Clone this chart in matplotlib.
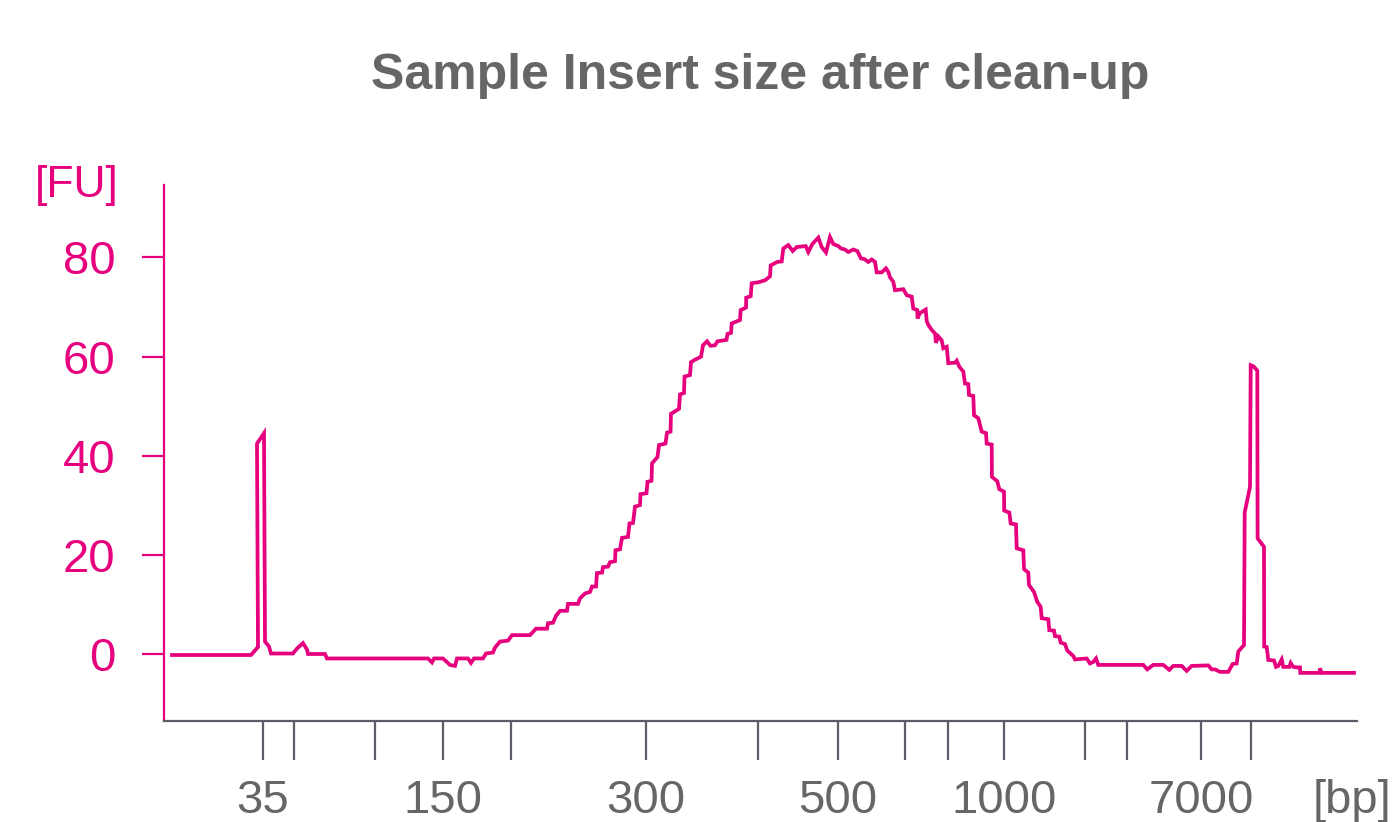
import matplotlib
matplotlib.use("Agg")
import matplotlib.pyplot as plt

# electropherogram trace: migration position (arbitrary units) vs fluorescence [FU]
position = [
    172, 251, 258, 257, 264, 265, 269, 271, 293, 297, 303, 307, 308, 325, 327,
    428, 432, 434, 443, 450, 455, 457, 468, 471, 474, 483, 486, 493, 495, 500,
    508, 512, 530, 536, 547, 548, 553, 556, 560, 567, 568, 578, 580, 585, 590,
    592, 596, 597, 602, 603, 608, 610, 615, 615.5, 620, 622, 628, 629.5, 633, 635,
    640, 640.5, 646.5, 647.5, 651.5, 652, 657.5, 659, 665.5, 667, 670.5, 671, 679, 680,
    684, 684.5, 690, 691, 695, 701, 703, 707, 710.5, 715, 717.5, 726.5, 727.5, 731,
    731.7, 740, 740.7, 746, 746.2, 750.7, 751.7, 758.3, 765, 770, 770.7, 777.3, 781.7,
    783.3, 788.3, 792.7, 796.7, 805.7, 808.3, 812.3, 818.3, 821.7, 826, 830, 833.3,
    838.3, 841, 845, 848.3, 853.3, 857.3, 861, 864.3, 868.3, 871.7, 875, 876.7, 881.7,
    886, 888.3, 890, 893.3, 895, 903.3, 906.7, 911.7, 913.3, 917.3, 917.5, 920, 925.7,
    926.7, 928.3, 931.7, 935, 936, 938.3, 941.7, 943.3, 946.7, 948.3, 955, 956.7, 959.3,
    963.3, 965, 968.3, 969, 973.3, 974, 978.3, 981.7, 986, 986.7, 991.7, 991.9, 997.3,
    999.3, 1004, 1004.2, 1009.3, 1010.7, 1016, 1016.7, 1023.3, 1024, 1028.3, 1029, 1034,
    1037.3, 1040.7, 1041.7, 1048.3, 1049.3, 1054, 1055, 1059.3, 1060.7, 1065, 1067.3,
    1073.3, 1075, 1086.7, 1090, 1093.3, 1096, 1098.3, 1143.3, 1147.3, 1153.3, 1163.3,
    1169.3, 1173.3, 1181.7, 1186.7, 1191.7, 1208.3, 1211.7, 1215, 1220, 1228.3, 1232.7,
    1236.7, 1238.3, 1244, 1244.7, 1250, 1250.7, 1253.3, 1257.3, 1257.6, 1264, 1264.2,
    1266.7, 1268.3, 1274, 1276, 1278.3, 1281.7, 1283.3, 1289.3, 1290.7, 1293.3, 1296.7,
    1300, 1300.3, 1319.3, 1320, 1321.7, 1354,
]
fu = [
    -0.1, -0.1, 1.5, 42.5, 44.6, 2.6, 1.6, 0.2, 0.2, 1.2, 2.3, 1.0, 0.1, 0.1, -0.8,
    -0.8, -1.6, -0.8, -0.8, -2.1, -2.3, -0.8, -0.8, -1.7, -0.8, -0.8, 0.2, 0.4, 1.4, 2.6,
    2.8, 3.9, 3.9, 5.2, 5.2, 6.3, 6.4, 7.8, 8.8, 8.8, 10.2, 10.2, 11.3, 12.3, 12.6,
    13.7, 13.7, 16.4, 16.5, 17.6, 17.7, 18.6, 18.8, 21.0, 21.2, 23.5, 23.7, 26.4, 26.5, 29.8,
    30.1, 32.3, 32.5, 34.8, 35.0, 38.5, 39.8, 42.2, 42.5, 44.7, 44.9, 48.5, 49.5, 52.4,
    52.7, 56.0, 56.3, 58.9, 59.4, 60.0, 62.3, 63.1, 62.2, 62.3, 63.1, 63.4, 64.6, 64.8,
    66.7, 67.4, 69.4, 69.9, 71.9, 72.2, 74.8, 75.0, 75.4, 76.2, 78.4, 79.1, 79.2,
    81.8, 82.5, 81.3, 82.1, 82.3, 81.1, 82.7, 84.0, 82.1, 81.0, 84.1, 82.7,
    82.3, 81.8, 81.6, 81.1, 81.6, 81.3, 79.8, 79.7, 79.1, 79.6, 79.1, 77.0, 77.0,
    77.8, 77.1, 76.0, 75.1, 73.4, 73.6, 72.4, 72.1, 69.7, 69.4, 67.7, 68.8, 69.5,
    67.2, 66.4, 65.4, 64.7, 62.8, 64.1, 63.3, 61.7, 62.0, 58.7, 58.8, 59.2, 58.0,
    57.0, 54.6, 54.5, 52.3, 52.1, 48.2, 47.6, 44.9, 44.6, 42.5, 42.3, 35.8, 34.9,
    33.3, 32.8, 29.0, 28.6, 26.4, 26.2, 21.4, 21.0, 17.2, 16.5, 14.0, 12.6,
    10.6, 9.6, 7.3, 7.1, 4.9, 4.8, 3.7, 3.6, 2.4, 2.1, 0.8,
    -0.3, -1.0, -0.8, -1.8, -1.5, -0.8, -2.1, -2.1, -3.0, -2.1, -2.1,
    -3.1, -2.3, -2.3, -3.3, -2.3, -2.2, -3.0, -3.0, -3.5, -3.5, -1.9,
    -1.8, 0.6, 1.9, 28.6, 33.8, 58.3, 58.1, 57.2, 23.4, 21.7, 1.6,
    1.5, -1.1, -1.2, -2.5, -2.3, -1.0, -2.5, -2.5, -1.7, -2.5, -2.6,
    -2.6, -3.7, -3.7, -2.8, -3.7, -3.7,
]

# size-ladder ticks (position on the run, label in bp)
tick_pos = [263, 294, 375, 443, 511, 646, 758, 838, 905, 948, 1004, 1085, 1127, 1201, 1251]
tick_lbl = ['35', '', '', '150', '', '300', '', '500', '', '', '1000', '', '', '7000', '']
y_ticks = [0, 20, 40, 60, 80]

PINK = '#e6007e'
GREY = '#666666'
AXGREY = '#5c5c66'

plt.rcParams['font.family'] = ['Liberation Sans', 'DejaVu Sans']

fig = plt.figure(figsize=(13.95, 8.22), dpi=100)
ax = fig.add_axes([164 / 1395, 1 - 721 / 822, (1357 - 164) / 1395, (721 - 185) / 822])

ax.plot(position, fu, color=PINK, lw=2.7, solid_joinstyle='miter')

ax.set_xlim(164, 1357)
ax.set_ylim(-13.4, 94.6)

ax.spines['top'].set_visible(False)
ax.spines['right'].set_visible(False)
ax.spines['left'].set_color(PINK)
ax.spines['left'].set_linewidth(1.6)
ax.spines['bottom'].set_color(AXGREY)
ax.spines['bottom'].set_linewidth(1.6)

ax.set_yticks(y_ticks)
ax.set_yticklabels([str(v) for v in y_ticks])
ax.tick_params(axis='y', colors=PINK, length=16, width=1.6, pad=19,
               labelsize=34)
ax.set_xticks(tick_pos)
ax.set_xticklabels(tick_lbl)
ax.tick_params(axis='x', colors=AXGREY, length=28, width=1.6, pad=14,
               labelsize=34, labelcolor=GREY)

# unit labels
ax.text(-0.038, 1.0, '[FU]', transform=ax.transAxes, ha='right', va='center',
        color=PINK, fontsize=32)
ax.annotate('[bp]', xy=(1352, 0), xycoords=('data', 'axes fraction'),
            xytext=(0, -42), textcoords='offset points', ha='center', va='top',
            color=GREY, fontsize=34, annotation_clip=False)

fig.text(0.5452, 0.907, 'Sample Insert size after clean-up', ha='center', va='center',
         color=GREY, fontsize=36, fontweight='bold')

fig.savefig('out.png', dpi=100)
